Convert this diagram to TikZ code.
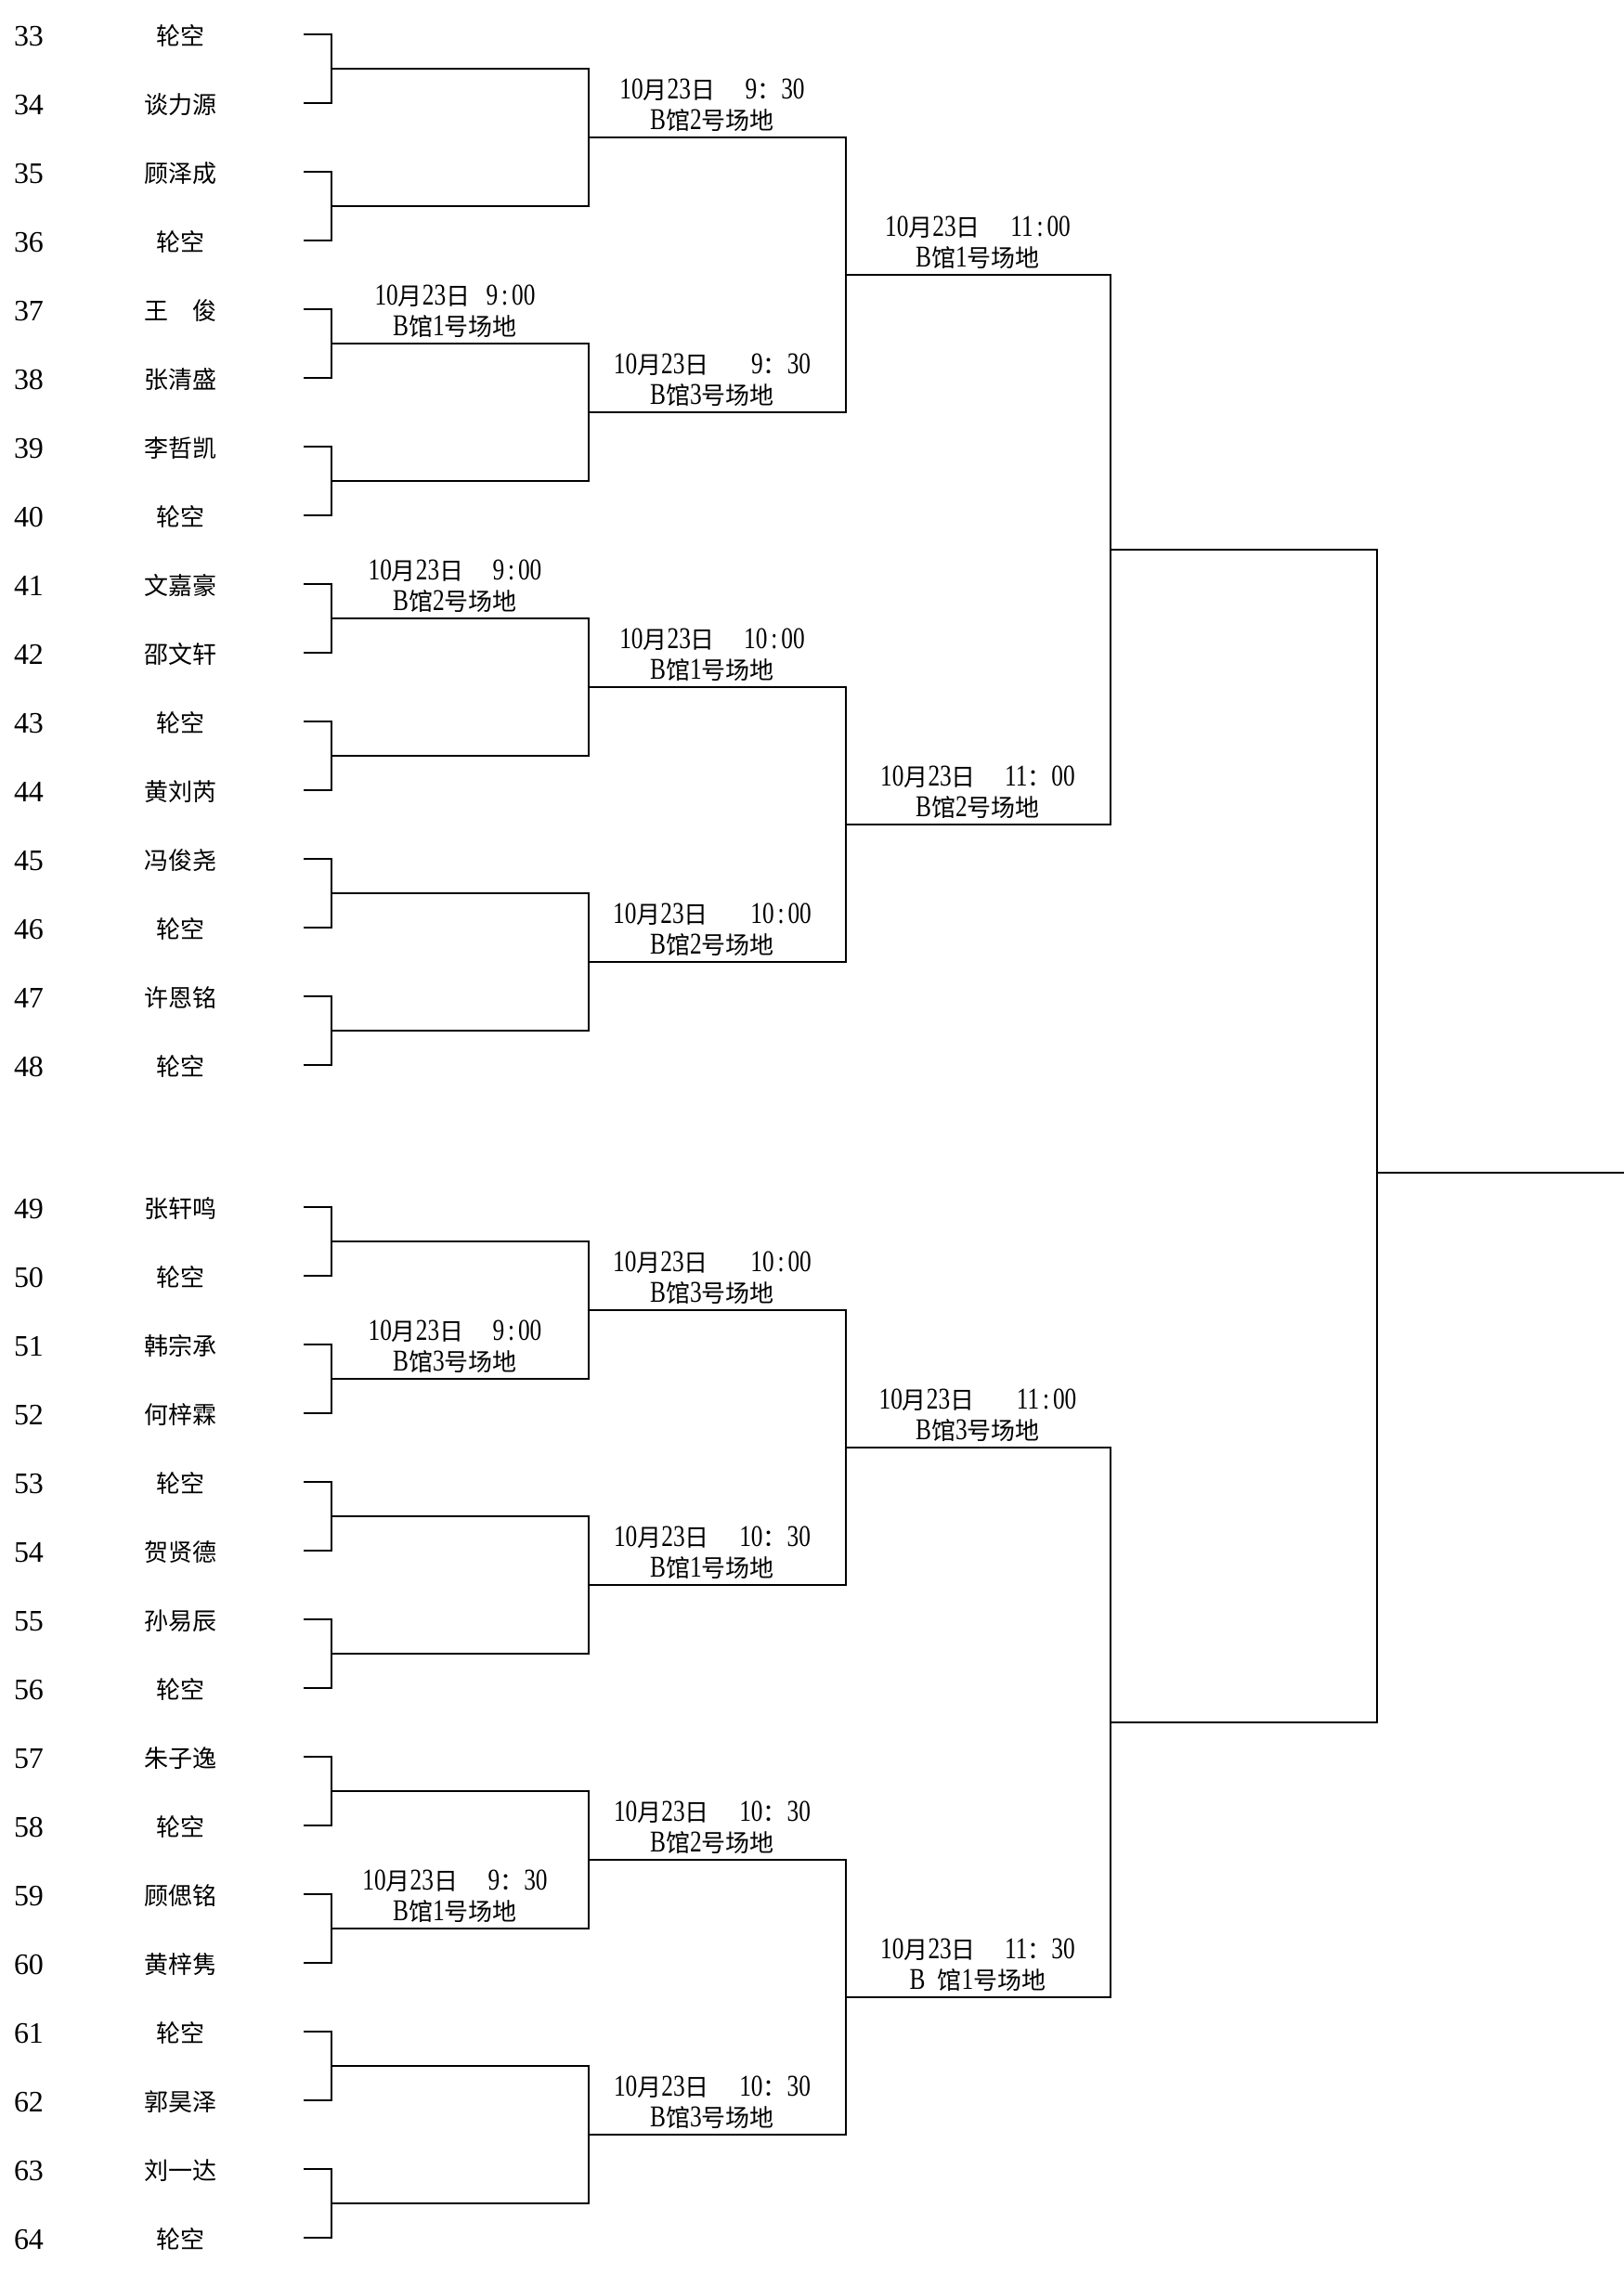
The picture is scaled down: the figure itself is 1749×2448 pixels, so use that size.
\documentclass[tikz,border=0pt]{standalone}
\usepackage{fontspec}
\setmainfont{Liberation Serif}
\newfontfamily\cjk{Noto Sans CJK SC}
\newfontfamily\labdig[FakeStretch=0.78,Scale=1.25]{Liberation Serif}
\newcommand\D[1]{{\labdig #1}}
\newcommand\fc{{\cjk ：}}
\newcommand\co{\hspace{0.15em}\D{:}\hspace{0.15em}}
\newcommand\datepart{\D{10}{\cjk 月}\D{23}{\cjk 日}}
\newcommand\venue[1]{\D{B}{\cjk 馆}\D{#1}{\cjk 号场地}}
\begin{document}
\begin{tikzpicture}[x=0.5pt,y=-0.5pt,
  br/.style={line width=0.95pt,line join=miter},
  numtxt/.style={anchor=base,inner sep=0pt,font=\fontsize{16pt}{16pt}\selectfont},
  nametxt/.style={anchor=base,inner sep=0pt,font=\cjk\fontsize{13pt}{13pt}\selectfont},
  labtxt/.style={anchor=base,inner sep=0pt,font=\fontsize{13pt}{13pt}\selectfont}]
\useasboundingbox (0,0) rectangle (1749,2448);

% players
\foreach \n/\nm in {33/轮空,34/谈力源,35/顾泽成,36/轮空,37/王　俊,38/张清盛,39/李哲凯,40/轮空,
  41/文嘉豪,42/邵文轩,43/轮空,44/黄刘芮,45/冯俊尧,46/轮空,47/许恩铭,48/轮空,
  49/张轩鸣,50/轮空,51/韩宗承,52/何梓霖,53/轮空,54/贺贤德,55/孙易辰,56/轮空,
  57/朱子逸,58/轮空,59/顾偲铭,60/黄梓隽,61/轮空,62/郭昊泽,63/刘一达,64/轮空} {
  \pgfmathsetmacro\yy{\n<49 ? 37+74*(\n-33) : 1300+74*(\n-49)}
  \node[numtxt] (num\n) at (31,\yy+12) {\n};
  \node[nametxt] (nm\n) at (194,\yy+11) {\nm};
  \coordinate (leaf\n) at (327,\yy);
}

% first-round brackets
\foreach \a/\b in {33/34,35/36,37/38,39/40,41/42,43/44,45/46,47/48,
  49/50,51/52,53/54,55/56,57/58,59/60,61/62,63/64}
  \draw[br] (leaf\a) -- ++(30,0) |- (leaf\b);

% later rounds
\foreach \h in {37,1300} {
  \foreach \j in {0,...,3}
    \draw[br] (357,\h+37+296*\j) -- (634,\h+37+296*\j) -- (634,\h+185+296*\j) -- (357,\h+185+296*\j);
  \foreach \j in {0,1}
    \draw[br] (634,\h+111+592*\j) -- (911,\h+111+592*\j) -- (911,\h+407+592*\j) -- (634,\h+407+592*\j);
  \draw[br] (911,\h+259) -- (1196,\h+259) -- (1196,\h+851) -- (911,\h+851);
}
\draw[br] (1196,592) -- (1483,592) -- (1483,1855) -- (1196,1855);
\coordinate (champ) at (1749,1263);
\draw[br] (1483,1263) -- (champ);

% match labels
\newcommand\lab[5]{%
  \node[labtxt] (#5a) at (#1,#2-42) {#3};
  \node[labtxt] (#5b) at (#1,#2-9) {#4};}
\lab{490}{370}{\datepart\hspace{0.67em}\D{9}\co\D{00}}{\venue{1}}{la}
\lab{490}{666}{\datepart\hspace{1.2em}\D{9}\co\D{00}}{\venue{2}}{lb}
\lab{490}{1485}{\datepart\hspace{1.2em}\D{9}\co\D{00}}{\venue{3}}{lc}
\lab{490}{2077}{\datepart\hspace{1.25em}\D{9}\fc\D{30}}{\venue{1}}{ld}

\lab{767}{148}{\datepart\hspace{1.25em}\D{9}\fc\D{30}}{\venue{2}}{le}
\lab{767}{444}{\datepart\hspace{1.75em}\D{9}\fc\D{30}}{\venue{3}}{lf}
\lab{767}{740}{\datepart\hspace{1.2em}\D{10}\co\D{00}}{\venue{1}}{lg}
\lab{767}{1036}{\datepart\hspace{1.75em}\D{10}\co\D{00}}{\venue{2}}{lh}
\lab{767}{1411}{\datepart\hspace{1.75em}\D{10}\co\D{00}}{\venue{3}}{li}
\lab{767}{1707}{\datepart\hspace{1.25em}\D{10}\fc\D{30}}{\venue{1}}{lj}
\lab{767}{2003}{\datepart\hspace{1.25em}\D{10}\fc\D{30}}{\venue{2}}{lk}
\lab{767}{2299}{\datepart\hspace{1.25em}\D{10}\fc\D{30}}{\venue{3}}{ll}

\lab{1053}{296}{\datepart\hspace{1.25em}\D{11}\co\D{00}}{\venue{1}}{lm}
\lab{1053}{888}{\datepart\hspace{1.2em}\D{11}\fc\D{00}}{\venue{2}}{ln}
\lab{1053}{1559}{\datepart\hspace{1.75em}\D{11}\co\D{00}}{\venue{3}}{lo}
\lab{1053}{2151}{\datepart\hspace{1.2em}\D{11}\fc\D{30}}{\D{B}\hspace{0.5em}{\cjk 馆}\D{1}{\cjk 号场地}}{lp}
\end{tikzpicture}
\end{document}
